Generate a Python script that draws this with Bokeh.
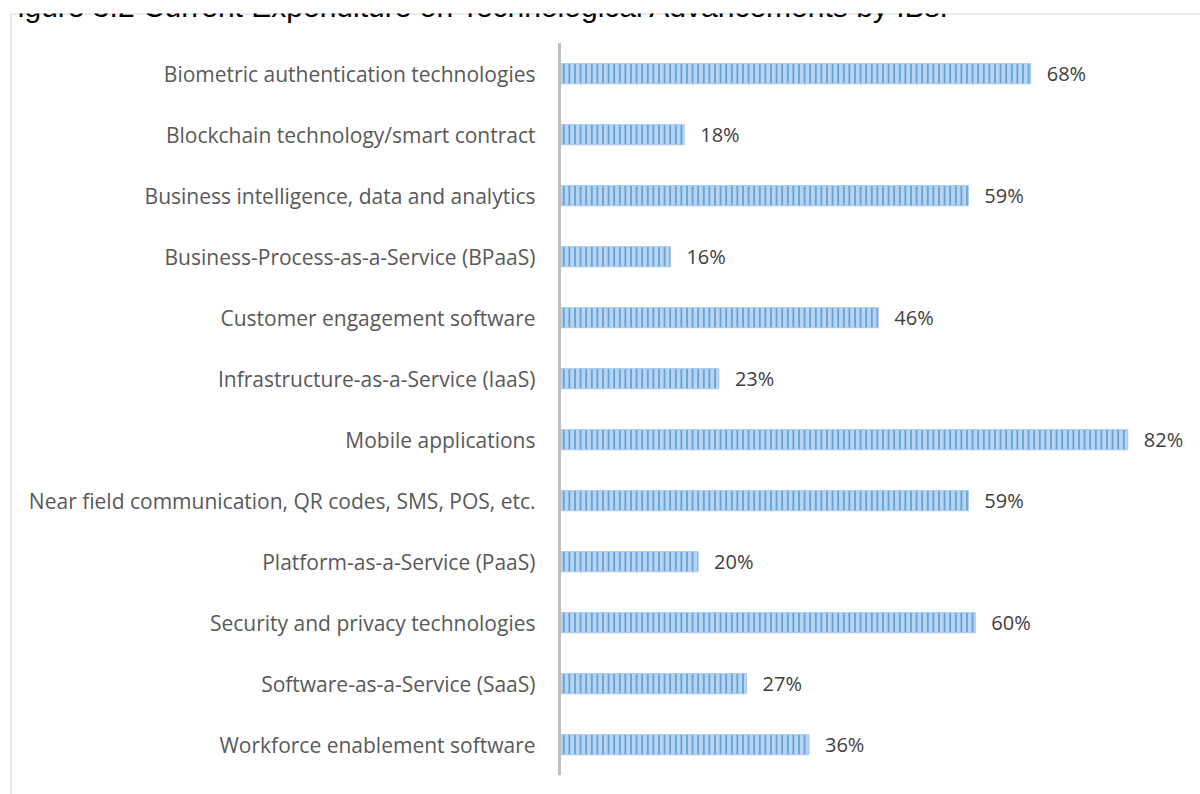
from bokeh.plotting import figure
from bokeh.models import Range1d, Span, Label
from bokeh.core.properties import value
from bokeh.embed import file_html
from bokeh.resources import INLINE

categories = [
    "Biometric authentication technologies",
    "Blockchain technology/smart contract",
    "Business intelligence, data and analytics",
    "Business-Process-as-a-Service (BPaaS)",
    "Customer engagement software",
    "Infrastructure-as-a-Service (IaaS)",
    "Mobile applications",
    "Near field communication, QR codes, SMS, POS, etc.",
    "Platform-as-a-Service (PaaS)",
    "Security and privacy technologies",
    "Software-as-a-Service (SaaS)",
    "Workforce enablement software",
]
values = [68, 18, 59, 16, 46, 23, 82, 59, 20, 60, 27, 36]
value_labels = [f"{v}%" for v in values]
title_text = "Figure 3.2 Current Expenditure on Technological Advancements by IBs."

n = len(categories)
idx = list(range(n))

W, H = 1200, 794
BL, BT = 10, 13
PX_PER_PCT = 6.93
ZERO_PX = 549        # zero position from frame left
CAT_PX = 61.0
TOP_PAD_PX = 29.7
frame_w = W - BL
frame_h = H - BT

x_start = -ZERO_PX / PX_PER_PCT
x_end = (frame_w - ZERO_PX) / PX_PER_PCT
top = -0.5 - TOP_PAD_PX / CAT_PX
bottom = top + frame_h / CAT_PX

p = figure(width=W, height=H, output_backend="svg", toolbar_location=None,
           x_range=Range1d(x_start, x_end), y_range=Range1d(bottom, top),
           min_border_left=BL, min_border_top=BT, min_border_right=0, min_border_bottom=0)
p.axis.visible = False
p.grid.visible = False
p.outline_line_color = None
p.background_fill_color = "white"
p.border_fill_color = "white"

# outer chart-area border (left and top visible)
p.add_layout(Span(location=x_start, dimension="height", line_color="#d9d9d9", line_width=2))
p.add_layout(Span(location=top, dimension="width", line_color="#d9d9d9", line_width=2))

# bars
p.hbar(y=idx, left=0, right=values, height=0.33,
       fill_color="#b7d4f1", line_color="#a9c9ea", line_width=1,
       hatch_pattern="vertical_line", hatch_color="#5b9bd5",
       hatch_scale=5.6, hatch_weight=1.6)

# category axis line
p.segment(x0=0, x1=0, y0=-0.5, y1=n - 0.5, line_color="#bfbfbf", line_width=3)

# category labels
p.text(x=[0] * n, y=idx, text=categories, x_offset=-24,
       text_align="right", text_baseline="middle",
       text_font=value("Open Sans"), text_font_size="21px", text_color="#595959")

# value labels
p.text(x=values, y=idx, text=value_labels, x_offset=16,
       text_align="left", text_baseline="middle",
       text_font=value("Open Sans"), text_font_size="20px", text_color="#404040")

# title (mostly cut off at the top in the reference)
p.add_layout(Label(x=-11, y=frame_h + 7, x_units="screen", y_units="screen",
                   text=title_text, text_font="Liberation Sans",
                   text_font_size="30px", text_color="#000000",
                   text_baseline="alphabetic"))

open("out.html", "w").write(file_html(p, INLINE))
